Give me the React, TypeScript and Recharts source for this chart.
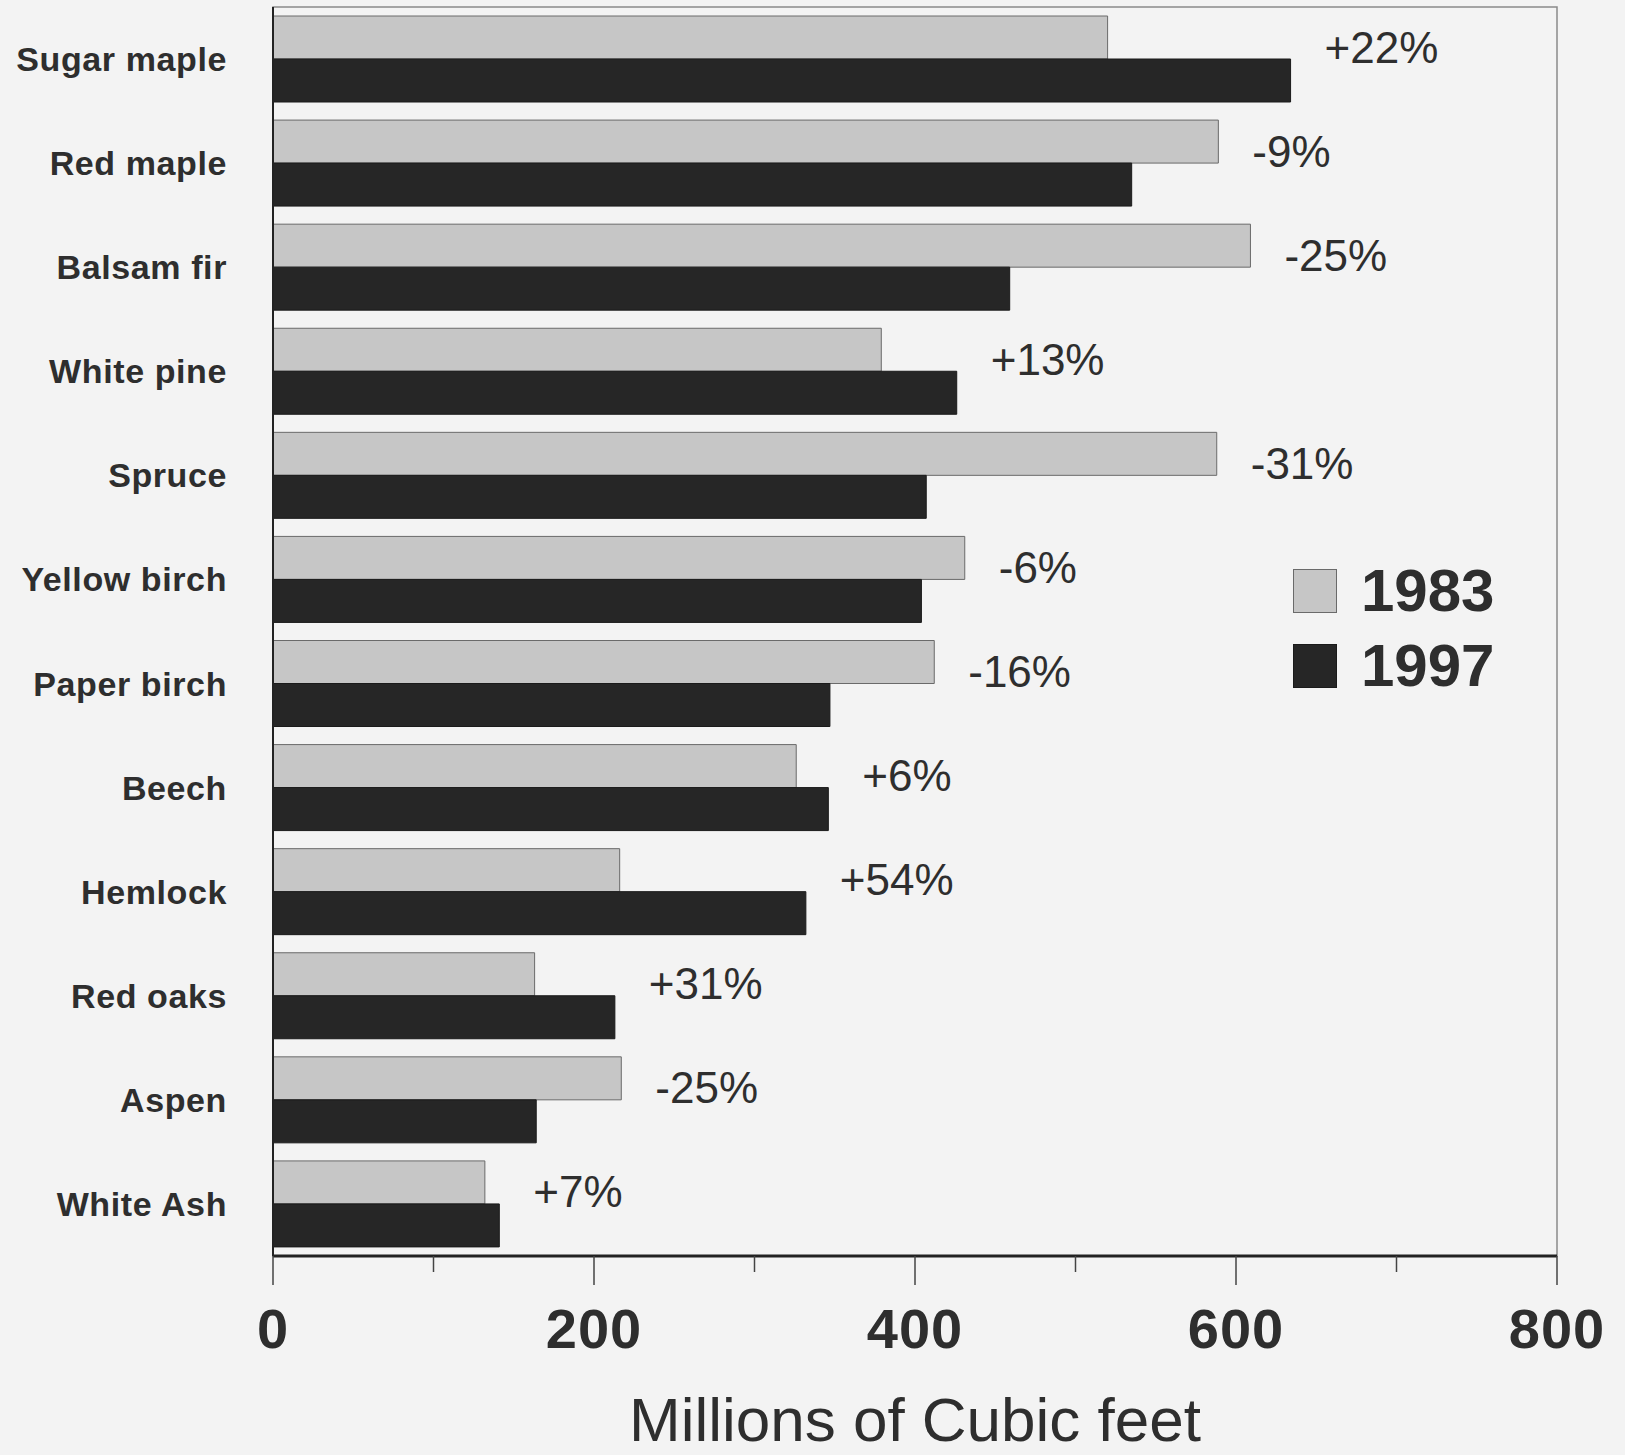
import React from 'react';
import { BarChart, Bar, XAxis, YAxis, Legend, LabelList, ReferenceArea, Label } from 'recharts';

const species = [
  'Sugar maple', 'Red maple', 'Balsam fir', 'White pine', 'Spruce', 'Yellow birch',
  'Paper birch', 'Beech', 'Hemlock', 'Red oaks', 'Aspen', 'White Ash',
];
const volume1983 = [520, 589, 609, 379, 588, 431, 412, 326, 216, 163, 217, 132];
const volume1997 = [634, 535, 459, 426, 407, 404, 347, 346, 332, 213, 164, 141];
const changeLabels = ['+22%', '-9%', '-25%', '+13%', '-31%', '-6%', '-16%', '+6%', '+54%', '+31%', '-25%', '+7%'];
const xTicks = [0, 100, 200, 300, 400, 500, 600, 700, 800];
const years = ['1983', '1997'];

const data = species.map((name, i) => ({
  name,
  y1983: volume1983[i],
  y1997: volume1997[i],
  change: changeLabels[i],
}));

const FONT = '"Liberation Sans", Arial, Helvetica, sans-serif';
const INK = '#2e2e2e';
const LIGHT = '#c6c6c6';
const DARK = '#262626';

function YTick({ x, y, payload }: any) {
  return (
    <text x={x} y={y} dy={12} textAnchor="end" fontSize={34} fontWeight="bold" letterSpacing={0.6} fill={INK} fontFamily={FONT}>
      {payload.value}
    </text>
  );
}

function XTick({ x, y, payload }: any) {
  const major = payload.value % 200 === 0;
  return (
    <g>
      <line x1={x} x2={x} y1={y} y2={y + (major ? 29 : 16)} stroke="#444" strokeWidth={1.5} />
      {major && (
        <text x={x} y={y + 92} textAnchor="middle" fontSize={56} fontWeight="bold" letterSpacing={1} fill={INK} fontFamily={FONT}>
          {payload.value}
        </text>
      )}
    </g>
  );
}

// percent change sits just right of the longer bar of each pair
const renderChange = (props: any) => {
  const { x, y, width, index, value } = props;
  const row = data[index];
  const perUnit = width / row.y1997;
  const end = x + Math.max(row.y1983, row.y1997) * perUnit;
  return (
    <text x={end + 34} y={y - 12} dominantBaseline="central" fontSize={44} fill={INK} fontFamily={FONT}>
      {value}
    </text>
  );
};

const renderLegend = () => (
  <div style={{ fontFamily: FONT }}>
    {years.map((yr, i) => (
      <div key={yr} style={{ display: 'flex', alignItems: 'center', height: 75 }}>
        <div
          style={{
            width: 44,
            height: 44,
            boxSizing: 'border-box',
            background: i === 0 ? LIGHT : DARK,
            border: `1.5px solid ${i === 0 ? '#6a6a6a' : '#1a1a1a'}`,
          }}
        />
        <span style={{ marginLeft: 24, fontSize: 60, fontWeight: 'bold', color: INK, lineHeight: 1 }}>{yr}</span>
      </div>
    ))}
  </div>
);

export default function App() {
  return (
    <div style={{ position: 'absolute', left: 0, top: 0, width: 1625, height: 1455, background: '#f3f3f3', fontFamily: FONT }}>
      <BarChart
        width={1625}
        height={1455}
        data={data}
        layout="vertical"
        margin={{ top: 7, right: 68, bottom: 0, left: 0 }}
        barCategoryGap={9}
        barGap={0}
      >
        <ReferenceArea x1={0} x2={800} fill="none" stroke="#8a8a8a" strokeWidth={1.5} />
        <XAxis
          type="number"
          domain={[0, 800]}
          ticks={xTicks}
          interval={0}
          height={199}
          tickSize={0}
          tickMargin={0}
          tickLine={false}
          axisLine={{ stroke: '#222', strokeWidth: 3 }}
          tick={<XTick />}
        >
          <Label
            content={(props: any) => {
              const vb = props.viewBox;
              return (
                <text x={vb.x + vb.width / 2} y={vb.y + 185} textAnchor="middle" fontSize={62} fill={INK} fontFamily={FONT}>
                  Millions of Cubic feet
                </text>
              );
            }}
          />
        </XAxis>
        <YAxis
          type="category"
          dataKey="name"
          width={273}
          tickSize={44}
          tickMargin={2}
          tickLine={false}
          axisLine={{ stroke: '#222', strokeWidth: 2 }}
          tick={<YTick />}
        />
        <Legend
          layout="vertical"
          align="center"
          verticalAlign="middle"
          content={renderLegend}
          wrapperStyle={{ left: 1293, top: 553, width: 260 }}
        />
        <Bar dataKey="y1983" name="1983" fill={LIGHT} stroke="#6a6a6a" strokeWidth={1} isAnimationActive={false} />
        <Bar dataKey="y1997" name="1997" fill={DARK} stroke="#1a1a1a" strokeWidth={1} isAnimationActive={false}>
          <LabelList dataKey="change" content={renderChange} />
        </Bar>
      </BarChart>
    </div>
  );
}
